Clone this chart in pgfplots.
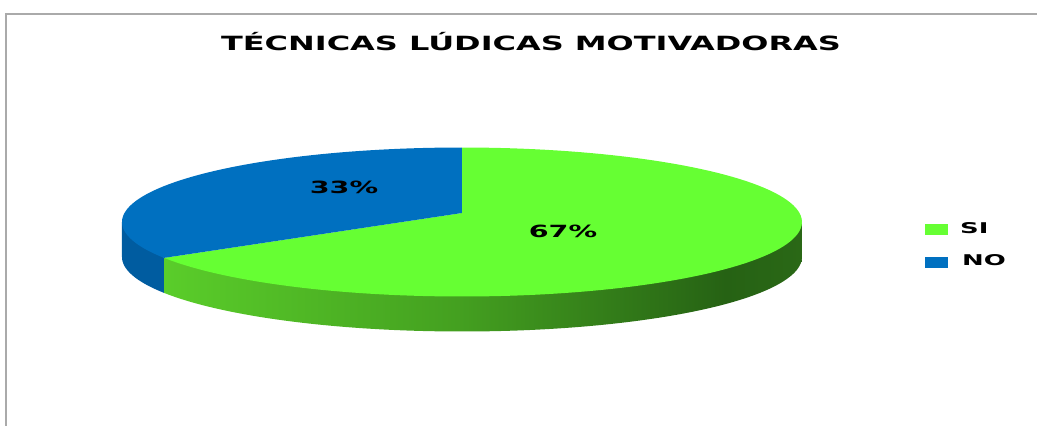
\documentclass[border=0pt]{standalone}
\usepackage{fontspec}
\setmainfont{DejaVu Sans}
\usepackage{graphicx}
\usepackage{pgfplots}
\pgfplotsset{compat=1.18}
\definecolor{greenTop}{RGB}{102,255,51}
\definecolor{blueTop}{RGB}{0,112,192}
\definecolor{blueSide}{RGB}{0,92,160}
\definecolor{gsA}{RGB}{90,205,42}
\definecolor{gsB}{RGB}{68,160,32}
\definecolor{gsC}{RGB}{38,98,20}
\definecolor{gsD}{RGB}{42,104,22}
\definecolor{frameGray}{RGB}{170,170,170}
\pgfdeclarehorizontalshading{greenside}{100bp}{color(0bp)=(gsA); color(25bp)=(gsA); color(48bp)=(gsB); color(69bp)=(gsC); color(75bp)=(gsD); color(100bp)=(gsD)}
\newcommand\sx[2][1.6]{\scalebox{#1}[1]{#2}}
% data (percent)
\def\valSI{67}
\def\valNO{33}
\begin{document}
\begin{tikzpicture}
\pgfmathsetmacro\cx{462}
\pgfmathsetmacro\cy{204}
\pgfmathsetmacro\ra{340}
\pgfmathsetmacro\rb{74.5}
\pgfmathsetmacro\dep{35}
\pgfmathsetmacro\apy{213}
\pgfmathsetmacro\split{90+3.6*\valNO}
\pgfmathsetmacro\splitg{\split-360}
\pgfmathsetmacro\spx{\cx+\ra*cos(\split)}
\pgfmathsetmacro\spy{\cy+\rb*sin(\split)}
\pgfmathsetmacro\lx{\cx-\ra}
\pgfmathsetmacro\rx{\cx+\ra}
\begin{axis}[x=0.5bp,y=0.5bp,xmin=0,xmax=1037,ymin=0,ymax=426,
  hide axis,clip=false,at={(0,0)},anchor=origin,samples=120,
  legend style={draw=none,fill=none,at={(axis cs:925,208)},anchor=north west,
    font=\fontsize{7.4bp}{8bp}\selectfont\bfseries,row sep=5.3bp,inner sep=0pt,
    /tikz/every even column/.append style={column sep=4bp}},
  legend cell align=left]
% blue side
\addplot[forget plot,draw=none,fill=blueSide,domain=180:\split]
  ({\cx+\ra*cos(x)},{\cy-\dep+\rb*sin(x)}) -- (axis cs:\spx,\spy) -- (axis cs:\lx,\cy) -- cycle;
% green side
\addplot[forget plot,draw=none,shade,shading=greenside,domain=\split:360]
  ({\cx+\ra*cos(x)},{\cy-\dep+\rb*sin(x)}) -- (axis cs:\rx,\cy) -- (axis cs:\spx,\spy) -- cycle;
% green top
\addplot[forget plot,draw=none,fill=greenTop,domain=\splitg:90]
  ({\cx+\ra*cos(x)},{\cy+\rb*sin(x)}) -- (axis cs:\cx,\apy) -- cycle;
% blue top
\addplot[forget plot,draw=none,fill=blueTop,domain=90:\split]
  ({\cx+\ra*cos(x)},{\cy+\rb*sin(x)}) -- (axis cs:\cx,\apy) -- cycle;
\addlegendimage{legend image code/.code={\fill[greenTop] (0bp,-2.5bp) rectangle (11bp,2.5bp);}}
\addlegendentry{\hspace{4bp}\sx[1.75]{SI}}
\addlegendimage{legend image code/.code={\fill[blueTop] (0bp,-2.5bp) rectangle (11bp,2.5bp);}}
\addlegendentry{\hspace{5bp}\sx[1.75]{NO}}
% labels
\node[font=\fontsize{8.4bp}{9bp}\selectfont\bfseries] at (axis cs:344,239) {\sx[1.7]{33\%}};
\node[font=\fontsize{8.4bp}{9bp}\selectfont\bfseries] at (axis cs:563,195) {\sx[1.7]{67\%}};
% title
\node[font=\fontsize{9.8bp}{11bp}\selectfont\bfseries] at (axis cs:531,384) {\sx[1.63]{TÉCNICAS LÚDICAS MOTIVADORAS}};
% frame
\draw[frameGray,line width=1bp,line cap=butt] (axis cs:6,-10) -- (axis cs:6,412.5);
\draw[frameGray,line width=1bp,line cap=butt] (axis cs:5,412) -- (axis cs:1037,412);
\end{axis}
\pgfresetboundingbox
\path[use as bounding box] (0,0) rectangle (518.5bp,213bp);
\end{tikzpicture}
\end{document}
